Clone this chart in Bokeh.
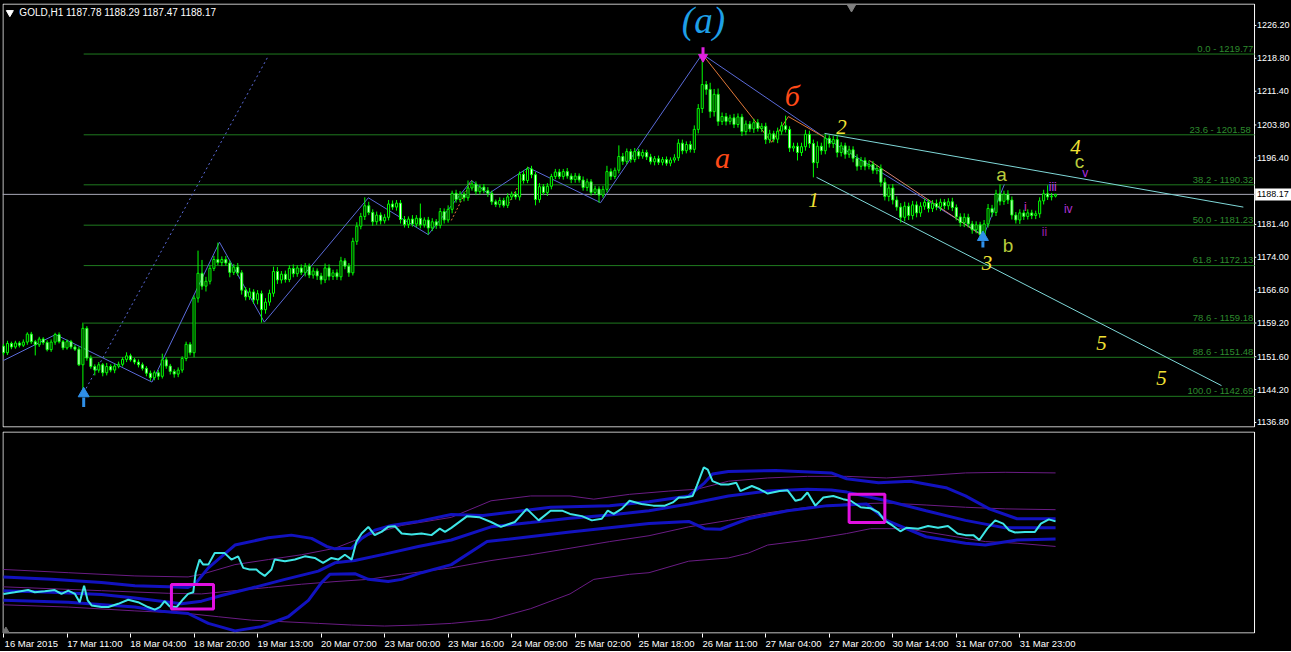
from bokeh.plotting import figure
from bokeh.models import Range1d, FixedTicker, ColumnDataSource
from bokeh.layouts import column
from bokeh.embed import file_html
from bokeh.resources import INLINE
from bokeh.core.properties import value

# ---------------- data ----------------
symbol_title = "GOLD,H1  1187.78 1188.29 1187.47 1188.17"
first_open = 1154.0
closes = [
    1152.5, 1154.6, 1153.8, 1154.7, 1154.2, 1154.9, 1156.7, 1155.0, 1154.3, 1155.6,
    1154.8, 1153.2, 1154.9, 1156.6, 1155.0, 1153.6, 1155.0, 1153.8, 1153.3, 1149.8,
    1158.0, 1151.3, 1149.4, 1148.6, 1149.8, 1148.0, 1149.4, 1148.6, 1149.5, 1149.9,
    1151.0, 1151.8, 1150.9, 1150.4, 1149.8, 1149.0, 1147.9, 1146.9, 1148.0, 1147.2,
    1150.9, 1149.5, 1148.3, 1147.7, 1148.6, 1151.2, 1154.4, 1152.5, 1164.8, 1170.4,
    1167.5, 1168.6, 1171.5, 1173.5, 1172.8, 1173.5, 1172.7, 1170.6, 1171.8, 1170.5,
    1166.6, 1165.1, 1166.2, 1164.4, 1165.8, 1162.2, 1163.9, 1165.9, 1170.8, 1168.9,
    1170.2, 1169.0, 1171.5, 1170.3, 1171.6, 1170.6, 1172.0, 1170.0, 1170.9, 1169.8,
    1168.9, 1171.6, 1169.7, 1170.5, 1169.6, 1173.2, 1172.0, 1170.5, 1177.6, 1181.0,
    1183.2, 1185.6, 1184.1, 1182.0, 1183.5, 1182.2, 1183.0, 1186.0, 1185.3, 1186.2,
    1182.5, 1181.4, 1182.6, 1181.5, 1182.8, 1181.3, 1182.4, 1180.6, 1182.0, 1181.2,
    1184.3, 1182.4, 1184.8, 1188.4, 1187.0, 1188.2, 1187.4, 1189.6, 1190.5, 1188.8,
    1189.8, 1189.0, 1188.4, 1186.5, 1185.9, 1186.8, 1185.7, 1187.6, 1188.2, 1187.6,
    1192.7, 1191.3, 1193.9, 1192.6, 1187.0, 1189.9, 1188.6, 1190.0, 1192.2, 1193.2,
    1192.2, 1193.3, 1192.3, 1191.5, 1192.3, 1191.4, 1189.7, 1191.0, 1188.6, 1189.4,
    1188.0, 1189.3, 1193.3, 1192.2, 1193.6, 1196.7, 1195.6, 1197.8, 1196.0, 1197.8,
    1196.8, 1197.6, 1196.6, 1195.5, 1196.2, 1195.4, 1196.0, 1195.2, 1195.9, 1196.4,
    1199.7, 1198.0, 1199.4, 1198.3, 1202.8, 1207.5, 1212.9, 1211.8, 1206.8, 1210.7,
    1204.6, 1205.7, 1204.6, 1205.4, 1203.9, 1205.6, 1202.3, 1204.0, 1202.9, 1204.3,
    1203.0, 1203.5, 1200.5, 1201.8, 1200.6, 1202.4, 1203.6, 1202.8, 1198.6, 1199.0,
    1197.6, 1198.9, 1201.7, 1199.6, 1195.3, 1199.0, 1198.0, 1200.8, 1199.6, 1200.5,
    1197.6, 1199.1, 1197.2, 1198.2, 1196.3, 1194.5, 1195.8, 1194.5, 1194.9, 1193.6,
    1194.0, 1190.9, 1187.7, 1189.6, 1186.9, 1185.3, 1183.0, 1185.5, 1183.4, 1185.8,
    1184.0, 1185.5, 1186.4, 1185.0, 1186.1, 1185.3, 1186.4, 1185.6, 1186.5, 1185.2,
    1183.1, 1181.8, 1183.0, 1181.5, 1180.2, 1181.3, 1179.1, 1181.5, 1185.0, 1184.1,
    1188.3, 1186.6, 1188.2, 1186.9, 1183.5, 1182.4, 1184.0, 1183.2, 1184.0, 1183.4,
    1183.8, 1186.7, 1188.3, 1187.6, 1187.78, 1188.17,
]
upper_wicks = [
    0.5, 0.6, 0.4, 0.5, 0.4, 0.6, 0.4, 0.5, 0.4, 0.5,
    0.4, 0.5, 0.6, 0.4, 0.5, 0.4, 0.5, 0.4, 0.5, 0.6,
    1.3, 0.5, 0.6, 0.5, 0.6, 0.4, 0.8, 0.5, 0.5, 0.6,
    0.5, 0.8, 0.5, 0.4, 0.6, 0.5, 0.5, 0.6, 0.5, 0.6,
    1.4, 0.6, 0.5, 0.5, 0.6, 0.5, 0.6, 0.5, 0.6, 5.1,
    3.0, 1.0, 0.8, 0.8, 3.8, 0.7, 0.8, 0.6, 0.7, 0.9,
    0.6, 0.7, 0.9, 0.6, 0.8, 0.7, 0.9, 0.8, 1.1, 1.0,
    0.7, 0.8, 0.7, 0.9, 0.6, 0.8, 0.7, 0.6, 0.8, 0.6,
    0.7, 1.0, 0.8, 0.7, 0.8, 0.9, 0.6, 0.7, 0.8, 0.9,
    0.8, 1.9, 0.9, 0.7, 0.8, 0.6, 0.7, 0.9, 0.8, 0.7,
    0.7, 0.8, 0.6, 0.9, 0.7, 3.3, 0.6, 0.7, 0.8, 0.6,
    0.8, 0.7, 0.9, 0.6, 0.8, 0.7, 0.6, 1.7, 0.7, 0.6,
    0.6, 0.7, 0.8, 0.6, 0.5, 0.7, 0.6, 0.8, 0.6, 0.7,
    0.6, 0.8, 0.5, 0.7, 0.6, 0.8, 0.6, 0.7, 0.6, 0.7,
    0.7, 0.6, 0.8, 0.6, 0.7, 0.6, 0.8, 0.7, 0.6, 0.7,
    0.6, 0.8, 1.3, 0.7, 0.6, 2.5, 0.8, 0.7, 0.6, 0.8,
    0.6, 0.7, 0.6, 0.7, 0.6, 0.7, 0.6, 0.7, 0.6, 0.8,
    0.9, 0.8, 0.7, 0.8, 0.9, 1.0, 6.87, 0.8, 1.5, 1.2,
    1.3, 0.9, 0.8, 0.7, 0.9, 0.8, 0.7, 0.8, 0.7, 0.9,
    0.8, 0.7, 0.8, 0.9, 0.7, 0.8, 0.9, 2.3, 0.7, 0.8,
    0.8, 0.9, 1.0, 0.8, 0.9, 1.1, 0.8, 0.9, 0.7, 0.8,
    0.9, 0.8, 0.7, 0.9, 0.8, 0.9, 0.8, 0.7, 0.9, 0.8,
    0.8, 0.9, 1.0, 0.8, 0.9, 0.8, 0.9, 1.0, 0.8, 0.9,
    0.8, 0.9, 0.8, 0.7, 0.8, 0.9, 0.8, 0.7, 0.8, 0.9,
    0.7, 0.8, 0.9, 0.8, 0.7, 0.8, 0.7, 0.9, 1.0, 0.8,
    0.9, 2.1, 0.8, 0.9, 0.8, 0.7, 0.8, 0.7, 0.8, 0.7,
    0.7, 0.8, 0.9, 1.9, 0.7, 0.12,
]
lower_wicks = [
    0.6, 0.5, 0.5, 0.4, 0.5, 0.4, 0.6, 0.5, 2.4, 0.5,
    0.5, 0.4, 0.5, 0.6, 0.4, 0.5, 0.4, 0.5, 0.4, 0.3,
    7.1, 0.6, 0.5, 1.2, 0.6, 0.8, 0.6, 0.5, 0.7, 0.5,
    0.5, 0.6, 0.4, 0.5, 0.6, 0.5, 0.7, 0.7, 0.6, 0.8,
    0.5, 0.6, 0.7, 0.8, 0.7, 0.6, 0.6, 0.6, 1.0, 1.0,
    0.8, 1.2, 0.7, 0.6, 0.6, 0.8, 0.6, 1.1, 0.6, 0.7,
    1.0, 0.8, 0.7, 0.9, 1.0, 2.9, 0.9, 0.8, 0.8, 0.9,
    0.8, 0.7, 0.6, 0.8, 0.7, 0.6, 0.9, 0.7, 0.8, 0.9,
    1.0, 0.7, 0.9, 0.8, 0.7, 0.8, 0.7, 0.9, 0.6, 0.8,
    0.7, 0.8, 0.6, 0.9, 0.7, 0.8, 0.6, 0.7, 0.6, 0.8,
    0.9, 0.7, 0.8, 0.6, 0.7, 0.8, 0.6, 1.5, 0.7, 0.8,
    0.7, 0.8, 0.6, 0.9, 0.7, 0.6, 0.8, 0.7, 0.6, 0.8,
    0.7, 0.6, 0.8, 0.7, 0.6, 0.7, 0.5, 0.6, 0.7, 0.6,
    0.8, 0.7, 0.6, 0.8, 1.3, 0.7, 0.6, 0.8, 0.7, 0.6,
    0.6, 0.7, 0.6, 0.8, 0.7, 0.6, 0.7, 0.8, 0.7, 0.6,
    1.7, 0.6, 0.7, 0.8, 0.6, 0.7, 0.8, 0.6, 0.7, 0.6,
    0.7, 0.6, 0.7, 0.6, 0.8, 0.6, 0.7, 0.6, 0.7, 0.6,
    0.7, 0.8, 0.6, 0.7, 0.8, 0.9, 1.0, 1.2, 1.4, 1.1,
    1.0, 0.8, 0.9, 0.7, 0.8, 0.7, 1.0, 0.8, 0.7, 0.9,
    0.7, 0.8, 1.0, 0.8, 0.7, 0.9, 0.8, 0.7, 0.9, 0.8,
    1.8, 0.8, 0.9, 1.0, 3.3, 1.2, 0.9, 0.8, 0.9, 1.0,
    1.1, 0.9, 1.0, 0.8, 0.9, 1.0, 0.8, 0.9, 0.7, 0.8,
    0.9, 1.0, 0.9, 1.1, 1.0, 0.8, 1.2, 0.9, 1.0, 0.9,
    1.0, 0.9, 0.8, 0.9, 0.8, 0.7, 0.9, 0.8, 0.9, 0.8,
    0.8, 0.9, 1.0, 0.8, 0.9, 0.8, 1.1, 0.9, 0.8, 1.0,
    0.8, 0.9, 0.8, 0.9, 1.0, 0.8, 0.9, 0.8, 0.7, 0.8,
    0.8, 0.9, 0.8, 0.7, 0.8, 0.31,
]

fib_levels = [1219.77, 1201.58, 1190.32, 1181.23, 1172.13, 1159.18, 1151.48, 1142.69]
fib_names = ["0.0", "23.6 ", "38.2", "50.0", "61.8", "78.6", "88.6", "100.0"]
fib_start_bar = 20.2
last_price = 1188.17

price_ticks = [1226.20, 1218.80, 1211.40, 1203.80, 1196.40, 1181.40, 1174.00,
               1166.60, 1159.20, 1151.60, 1144.20, 1136.80]
date_labels = ["16 Mar 2015", "17 Mar 11:00", "18 Mar 04:00", "18 Mar 20:00",
               "19 Mar 13:00", "20 Mar 07:00", "23 Mar 00:00", "23 Mar 16:00",
               "24 Mar 09:00", "25 Mar 02:00", "25 Mar 18:00", "26 Mar 11:00",
               "27 Mar 04:00", "27 Mar 20:00", "30 Mar 14:00", "31 Mar 07:00",
               "31 Mar 23:00"]
bars_per_label = 16

# swing (zigzag) points: bar index, price
zigzag_bars = [0, 13.1, 37.4, 54.4, 65.7, 91.9, 107.0, 117.9, 122.1, 132.2, 150.4,
               176.0, 206.8, 246.9, 252.1]
zigzag_prices = [1150.76, 1156.6, 1145.9, 1177.4, 1159.4, 1187.4, 1179.1, 1191.3,
                 1188.3, 1194.2, 1186.3, 1219.77, 1201.0, 1178.9, 1190.4]
dotted_bars = [20.8, 66.5]
dotted_prices = [1144.46, 1219.0]
orange_bars = [176.0, 193.5, 197.7, 206.8]
orange_prices = [1219.77, 1199.9, 1205.7, 1201.0]
salmon_bars = [218.1, 245.6]
salmon_prices = [1195.8, 1179.4]
small_orange = [((112.8, 1182.3), (117.9, 1191.3)), ((127.2, 1186.05), (132.2, 1194.2))]
channel_upper = [(206.8, 1201.9), (312.3, 1185.3)]
channel_lower = [(204.8, 1192.0), (306.8, 1145.1)]

# oscillator panel (0..100)
osc_line = [(0, 19.6), (2.8, 20.4), (6.2, 21.5), (7.9, 20.4), (10.4, 20.9), (12.9, 21.5),
            (14.6, 19.6), (16.3, 21.2), (18, 19.6), (19.2, 15.5), (20.3, 23.6), (21.2, 16.4),
            (22.2, 13.9), (24.7, 13.1), (26.4, 13.1), (28.9, 14.7), (31.4, 16.7), (33.9, 15.5),
            (36.4, 13.1), (38.1, 11.8), (39.4, 13.1), (40.6, 16), (41.9, 13.4), (43.6, 13.1),
            (45.3, 17.1), (46.5, 19.6), (47.8, 20.4), (48.4, 30.1), (49.4, 36.6), (50.3, 34.1),
            (51.6, 34.1), (53.2, 39.8), (55.7, 39.8), (57.4, 36.6), (59.1, 38.2), (60.4, 32.5),
            (62, 31.7), (63.7, 31.7), (64.6, 30.1), (65.8, 28.5), (67.5, 31.7), (68.3, 36.6),
            (70.9, 35.8), (73.4, 36.6), (75.9, 38.2), (78.4, 37.4), (80.5, 35), (82.6, 37.4),
            (84.3, 36.6), (86, 39), (87.7, 36.6), (88.9, 45.5), (90.2, 49.5), (91.9, 52.8),
            (93.5, 48.7), (95.2, 50.3), (96.9, 52.8), (98.6, 53.1), (100.3, 49.5), (102.8, 49),
            (105.3, 49.5), (107.8, 48.7), (109.9, 51.9), (111.2, 50.3), (112.8, 52.3),
            (116.8, 58.1), (119.8, 57.6), (122.8, 55.2), (125.3, 52.8), (128.8, 55.2),
            (131.8, 61.7), (134.8, 56), (137.8, 60.8), (140.7, 60.8), (142.7, 59.2),
            (145.7, 58.1), (148.2, 56), (150.7, 56.8), (152.2, 60.8), (153.7, 59.2),
            (155.7, 61.7), (157.7, 65.7), (160.7, 64.1), (163.7, 63.3), (166.6, 63.3),
            (168.6, 64.9), (170.1, 67.3), (171.6, 67.3), (173.6, 68.1), (174.6, 73),
            (176.4, 82.2), (177.4, 81.1), (178.6, 75.4), (180.6, 73.8), (182.6, 73.8),
            (184.6, 74.6), (185.6, 70.5), (188.5, 73), (190.5, 71.4), (192.5, 69.3),
            (195.5, 70.5), (197.5, 70.9), (199.5, 65.7), (201, 66.5), (202.5, 69.8),
            (204.5, 63.3), (206.5, 67.3), (209, 68.1), (211.5, 66.5), (213.4, 65.7),
            (215.9, 62.5), (218.4, 62), (220.4, 60), (221.9, 56), (223.9, 53.5),
            (225.9, 50.6), (227.4, 52.3), (230.4, 51.9), (232.9, 53.2), (235.4, 52.3),
            (237.9, 53.2), (240.3, 49.5), (242.3, 48.7), (244.3, 48.7), (245.8, 46.3),
            (247.8, 51.9), (249.8, 56), (251.8, 54.4), (253.3, 51.1), (254.8, 50),
            (257.3, 50.3), (259.8, 50.3), (261.3, 54.4), (263.3, 56.5), (265, 55.5)]
band_upper = [(0, 28), (12.1, 26.8), (24.7, 25.2), (33.1, 23.6), (41.5, 23.1), (46.5, 22.8),
              (48.2, 24.4), (51.6, 32.5), (58.3, 43.8), (66.7, 47.4), (72.5, 48.7), (77.6, 47.1),
              (81.4, 43.1), (83.5, 41.9), (87.7, 42.2), (90.2, 47.1), (93.5, 51.1), (97.7, 53.5),
              (104.5, 55.5), (112.8, 58.9), (120.8, 58.4), (128.8, 60.3), (137.8, 62.5),
              (152.7, 63.3), (162.6, 65.2), (172.6, 68.1), (176.6, 74.6), (178.6, 79),
              (182.6, 80.2), (194.5, 80.7), (208.5, 79.5), (212.4, 76.6), (220.4, 74.6),
              (228.4, 75.4), (237.4, 72.2), (242.3, 68.1), (248.3, 61.7), (255.3, 56.8),
              (265, 56.8)]
band_mid = [(0, 21.2), (12.1, 20.4), (24.7, 19.3), (33.1, 17.6), (39.8, 16), (44.8, 14.7),
            (49.9, 16), (54.9, 18.8), (62.5, 22.5), (70.9, 26.8), (79.3, 30.9), (83.5, 35),
            (88.5, 36.1), (96, 39.3), (104.5, 43.1), (112.8, 46.3), (122.8, 52.8), (132.8, 54.9),
            (142.7, 57.1), (152.7, 58.7), (162.6, 60.8), (172.6, 64.1), (182.6, 68.1),
            (192.5, 70.5), (202.5, 71.4), (208.5, 71), (212.4, 70), (222.4, 65.7),
            (232.4, 60.8), (242.3, 56), (252.3, 52.3), (265, 52.3)]
band_lower = [(0, 16.4), (16.3, 15.5), (33.1, 13.1), (39.8, 11), (46.5, 9.9), (51.6, 5),
              (58.3, 1.3), (65, 3.4), (71.7, 8.3), (76.8, 16.4), (80.1, 25.2), (82.2, 29.3),
              (88.5, 29.6), (91.9, 26.8), (96.9, 25.7), (100.3, 26.8), (105.3, 30.1),
              (112.8, 34.1), (121.8, 45.5), (142.7, 50.3), (162.6, 54.4), (172.6, 55.5),
              (176.6, 51.9), (180.6, 51.6), (187.6, 56.8), (197.5, 60.8), (207.5, 63.3),
              (217.4, 64.1), (222.4, 56), (232.4, 47.9), (242.3, 44.7), (247.3, 43.8),
              (255.3, 46.3), (265, 46.8)]
env_upper = [(0, 31.7), (16.3, 30.1), (33.1, 28.5), (46.5, 28), (49.9, 29.3), (58.3, 34.1),
             (66.7, 36.6), (75.1, 39), (83.5, 42.2), (91.9, 48.7), (100.3, 53.5), (112.8, 57.5),
             (122.8, 65.7), (132.8, 68.1), (142.7, 68.1), (148.7, 66.5), (157.7, 68.9),
             (167.6, 70.5), (174.6, 71.4), (182.6, 75.4), (192.5, 77), (202.5, 77.8),
             (212.4, 77.8), (222.4, 77), (232.4, 78.2), (242.3, 79.5), (252.3, 79.8), (265, 79.5)]
env_mid = [(0, 23.1), (24.7, 21.2), (41.5, 19.9), (49.9, 19.6), (58.3, 21.2), (66.7, 22.8),
           (75.1, 24.4), (83.5, 25.7), (91.9, 26.8), (100.3, 29.3), (112.8, 32.5), (122.8, 36.1),
           (132.8, 39), (142.7, 42.2), (152.7, 45.5), (162.6, 48.4), (172.6, 52.8), (182.6, 56),
           (192.5, 59.7), (202.5, 62.5), (212.4, 64.1), (222.4, 64.6), (232.4, 63.6),
           (242.3, 62.5), (252.3, 61.7), (265, 61.3)]
env_lower = [(0, 14.2), (16.3, 13.1), (33.1, 11.2), (46.5, 9.9), (54.1, 8.3), (62.5, 6.6),
             (70.9, 5.8), (79.3, 5), (87.7, 4.2), (96, 3.7), (104.5, 4.2), (112.8, 5),
             (122.8, 6.9), (132.8, 12.3), (142.7, 19.6), (148.7, 26.8), (157.7, 29.3),
             (162.6, 30.1), (172.6, 35.8), (182.6, 37.4), (187.6, 39.8), (192.5, 43.8),
             (202.5, 46.3), (212.4, 49.5), (218.4, 51.9), (227.4, 51.9), (237.4, 48.7),
             (247.3, 45.5), (255.3, 44.7), (265, 43.1)]
highlight_boxes = [(42.3, 52.9, 12.1, 24.3), (213.0, 222.0, 54.9, 68.9)]

# ---------------- derived ----------------
n = len(closes)
bars = list(range(n))
opens = [first_open] + closes[:-1]
highs = [max(o, c) + u for o, c, u in zip(opens, closes, upper_wicks)]
lows = [min(o, c) - l for o, c, l in zip(opens, closes, lower_wicks)]
tops = [max(o, c) for o, c in zip(opens, closes)]
bots = [min(o, c) for o, c in zip(opens, closes)]
fills = ["#000000" if c >= o else "#e8ffe8" for o, c in zip(opens, closes)]

X0, X1 = -0.25, 324.43     # full canvas width (price scale drawn inside)
XB = 315.12                # right border of the chart panels
Y0, Y1 = 1135.67, 1231.15
LIME = "#00ff00"
FONT = "Liberation Sans"
SERIF = "Liberation Serif"

p1 = figure(width=1291, height=429, x_range=Range1d(X0, X1), y_range=Range1d(Y0, Y1),
            output_backend="svg", toolbar_location=None,
            x_axis_location=None, y_axis_location=None,
            min_border_left=2, min_border_top=3, min_border_bottom=2, min_border_right=0,
            background_fill_color="black", border_fill_color="black", outline_line_color=None)
p1.grid.visible = False

# panel border
p1.quad(left=[X0 + 0.12], right=[XB], bottom=[Y0 + 0.12], top=[Y1 - 0.12],
        fill_color=None, line_color="white", line_width=1)

# price scale (inside canvas, right of border)
p1.segment(x0=[XB] * len(price_ticks), y0=price_ticks, x1=[XB + 0.45] * len(price_ticks),
           y1=price_ticks, line_color="white", line_width=1)
p1.text(x=[XB + 0.6] * len(price_ticks), y=price_ticks, text=[f"{v:.2f}" for v in price_ticks],
        text_align="left", text_baseline="middle", text_color="white",
        text_font=value(FONT), text_font_size="9px")

# fib levels
p1.segment(x0=[fib_start_bar] * len(fib_levels), y0=fib_levels, x1=[XB] * len(fib_levels),
           y1=fib_levels, line_color="#1f7a1f", line_width=1)
p1.text(x=[XB - 0.3] * len(fib_levels), y=[v + 1.3 for v in fib_levels],
        text=[f"{nm} - {v:.2f}" for nm, v in zip(fib_names, fib_levels)],
        text_align="right", text_baseline="middle", text_color="#2e8b2e",
        text_font=value(FONT), text_font_size="9.5px")

# current price line + box
p1.segment(x0=[X0], y0=[last_price], x1=[XB], y1=[last_price], line_color="#a8a8b8", line_width=1)
p1.quad(left=[XB + 0.15], right=[X1], bottom=[last_price - 1.37], top=[last_price + 1.33],
        fill_color="white", line_color=None)
p1.text(x=[XB + 0.6], y=[last_price], text=[f"{last_price:.2f}"], text_align="left",
        text_baseline="middle", text_color="black", text_font=value(FONT), text_font_size="9px")

# dotted projection, zigzag, orange, channel
p1.line(dotted_bars, dotted_prices, line_color="#5a6ad8", line_width=1, line_dash="2 3")
p1.line(zigzag_bars, zigzag_prices, line_color="#5a6ad8", line_width=1)
p1.line(orange_bars, orange_prices, line_color="#e07838", line_width=1)
p1.line(salmon_bars, salmon_prices, line_color="#d88070", line_width=1)
for (a, b) in small_orange:
    p1.line([a[0], b[0]], [a[1], b[1]], line_color="#e07838", line_width=1, line_dash="2 2")
p1.line([q[0] for q in channel_upper], [q[1] for q in channel_upper], line_color="#7fd8d8", line_width=1)
p1.line([q[0] for q in channel_lower], [q[1] for q in channel_lower], line_color="#7fd8d8", line_width=1)

# candles
src = ColumnDataSource(dict(x=bars, h=highs, l=lows, t=tops, b=bots, f=fills))
p1.segment(x0="x", y0="h", x1="x", y1="l", source=src, line_color=LIME, line_width=1)
p1.vbar(x="x", width=0.52, top="t", bottom="b", source=src, fill_color="f", line_color=LIME, line_width=1)

# arrows
p1.segment(x0=[20.2, 246.7], y0=[1142.4, 1177.6], x1=[20.2, 246.7], y1=[1140.3, 1176.2],
           line_color="#2f8fe8", line_width=3)
p1.scatter(x=[20.2, 246.7], y=[1143.3, 1178.5], marker="triangle", size=11,
           fill_color="#2f8fe8", line_color="#2f8fe8")
p1.segment(x0=[176.2], y0=[1221.3], x1=[176.2], y1=[1219.8], line_color="#e020e0", line_width=3)
p1.scatter(x=[176.2], y=[1219.1], marker="inverted_triangle", size=9,
           fill_color="#e020e0", line_color="#e020e0")
p1.scatter(x=[213.6], y=[1230.4], marker="inverted_triangle", size=9,
           fill_color="#808080", line_color="#808080")

# wave labels (positions are the visual centres of the labels)
p1.text(x=[176.3], y=[1227.3], text=["(a)"], text_align="center", text_baseline="middle",
        text_color="#1e9fe6", text_font=value(SERIF), text_font_style="italic", text_font_size="37px")
p1.text(x=[198.7, 181.1], y=[1210.4, 1196.5], text=["б", "a"], text_align="center",
        text_baseline="middle", text_color="#ff4a18", text_font=value(SERIF),
        text_font_style="italic", text_font_size="30px")
p1.text(x=[211.1, 204.0, 247.7, 270.0, 276.6, 291.7], y=[1203.45, 1187.0, 1172.7, 1198.8, 1154.6, 1146.8],
        text=["2", "1", "3", "4", "5", "5"], text_align="center", text_baseline="middle",
        text_color="#f2e234", text_font=value(SERIF), text_font_style="italic", text_font_size="21px")
p1.text(x=[251.4, 253.0, 271.0], y=[1192.6, 1176.7, 1195.6], text=["a", "b", "c"],
        text_align="center", text_baseline="middle", text_color="#b8cc3c",
        text_font=value(FONT), text_font_size="19px")
p1.text(x=[257.4, 262.2, 264.3, 268.2, 272.5], y=[1185.4, 1179.6, 1189.9, 1184.8, 1192.9],
        text=["i", "ii", "iii", "iv", "v"], text_align="center", text_baseline="middle",
        text_color=["#d030c0", "#a020b0", "#c040f0", "#b030d0", "#b030e0"],
        text_font=value(FONT), text_font_size="12px")

# title
p1.scatter(x=[1.6], y=[1229.1], marker="inverted_triangle", size=7, fill_color="white", line_color="white")
p1.text(x=[4.0], y=[1229.1], text=[symbol_title], text_align="left", text_baseline="middle",
        text_color="white", text_font=value(FONT), text_font_size="10px")

# ---------------- oscillator panel ----------------
p2 = figure(width=1291, height=222, x_range=p1.x_range, y_range=Range1d(0, 100),
            output_backend="svg", toolbar_location=None, y_axis_location=None,
            min_border_left=2, min_border_top=2, min_border_right=0, min_border_bottom=0,
            background_fill_color="black", border_fill_color="black", outline_line_color=None)
p2.grid.visible = False
p2.quad(left=[X0 + 0.12], right=[XB], bottom=[0.25], top=[99.75],
        fill_color=None, line_color="white", line_width=1)


def draw(series, color, width):
    p2.line([q[0] for q in series], [q[1] for q in series], line_color=color, line_width=width)


draw(env_upper, "#6a1c84", 1)
draw(env_mid, "#6a1c84", 1)
draw(env_lower, "#6a1c84", 1)
draw(band_upper, "#1212c0", 3)
draw(band_mid, "#1212c0", 3)
draw(band_lower, "#1212c0", 3)
draw(osc_line, "#3ee6e6", 2)
p2.quad(left=[b[0] for b in highlight_boxes], right=[b[1] for b in highlight_boxes],
        bottom=[b[2] for b in highlight_boxes], top=[b[3] for b in highlight_boxes],
        fill_color=None, line_color="#e010e0", line_width=3)
p2.scatter(x=[0.6], y=[1.5], marker="triangle", size=6, fill_color="#707070", line_color="#707070")

label_pos = [k * bars_per_label + 7 for k in range(len(date_labels))]
tick_pos = [k * bars_per_label for k in range(len(date_labels))]
xa = p2.xaxis[0]
xa.ticker = FixedTicker(ticks=label_pos, minor_ticks=tick_pos)
xa.major_label_overrides = {t: lab for t, lab in zip(label_pos, date_labels)}
xa.axis_line_color = None
xa.major_tick_line_color = None
xa.major_tick_out = 0
xa.major_tick_in = 0
xa.minor_tick_line_color = "white"
xa.minor_tick_out = 4
xa.minor_tick_in = 0
xa.major_label_standoff = 0
xa.major_label_text_color = "white"
xa.major_label_text_font = FONT
xa.major_label_text_font_size = "9.5px"

layout = column(p1, p2, spacing=0, styles={"background-color": "black"})
html = file_html(layout, INLINE, title="GOLD,H1")
html = html.replace("<body>", '<body style="background-color:#000000;margin:0">', 1)
open("out.html", "w").write(html)
